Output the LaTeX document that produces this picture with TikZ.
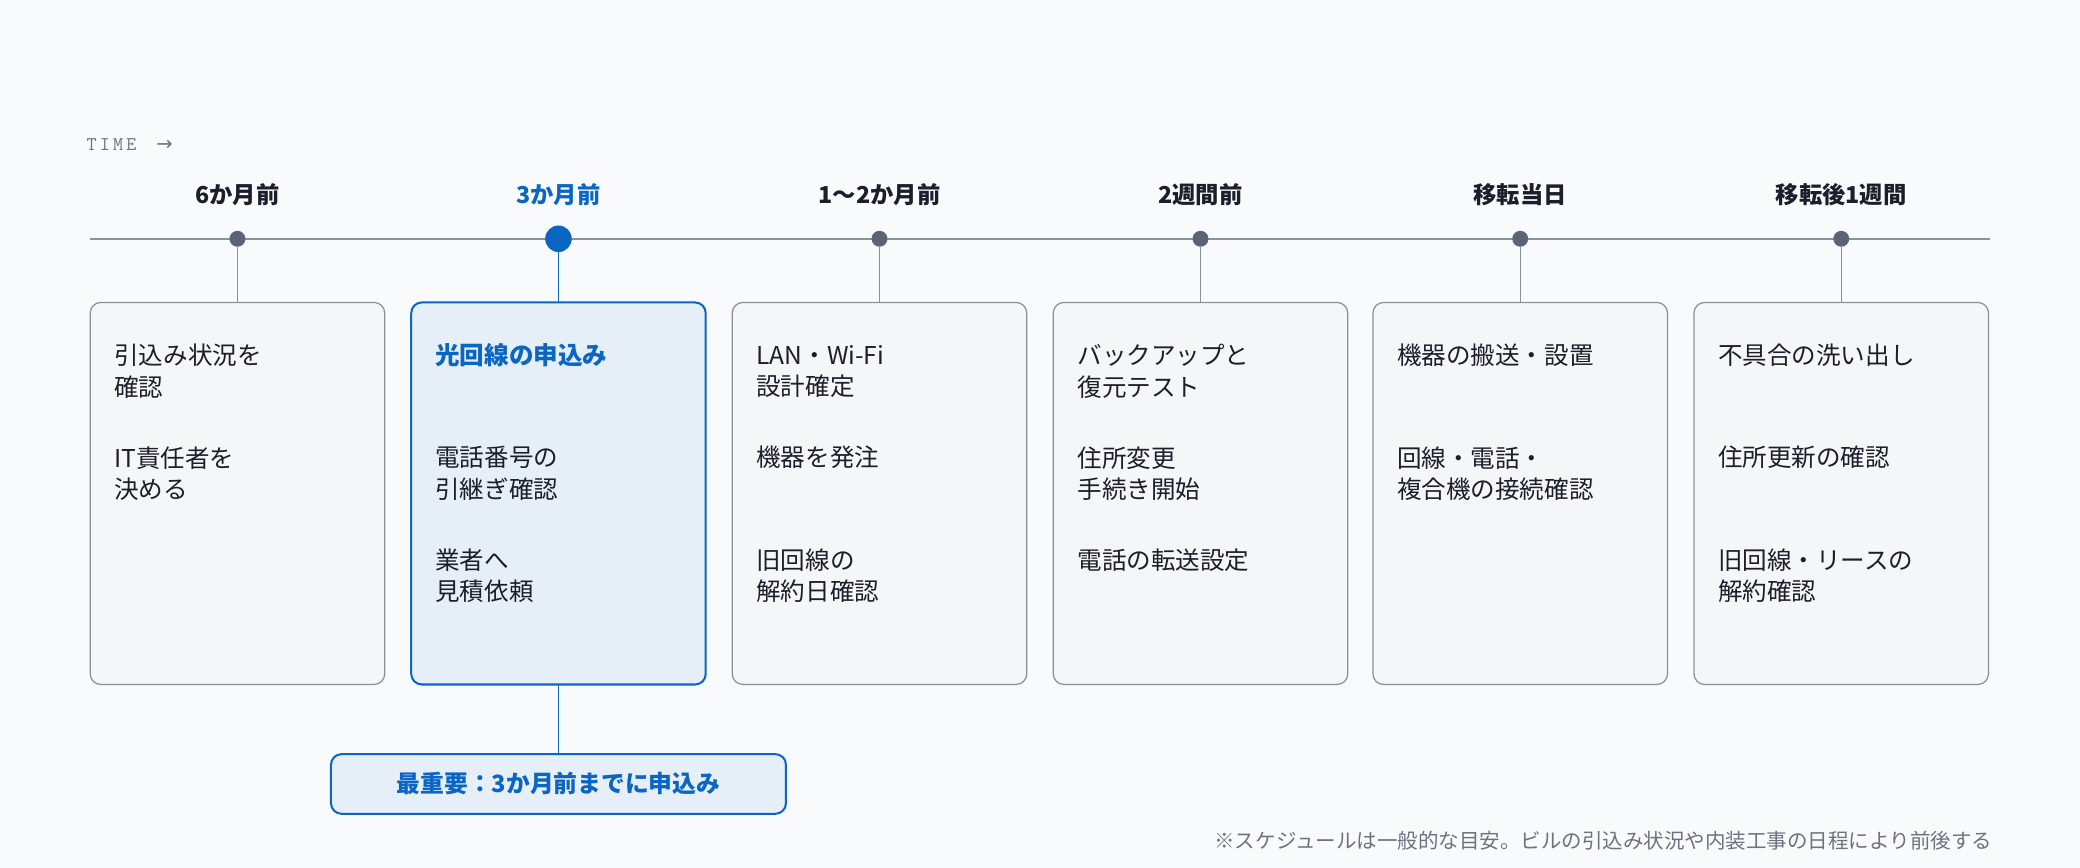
\documentclass[tikz,border=0pt]{standalone}
\usepackage{fontspec}
\setmainfont{Noto Sans CJK JP}
\newfontfamily\symfont{DejaVu Sans}
\usetikzlibrary{positioning}
\definecolor{bgcol}{HTML}{F9FAFB}
\definecolor{linecol}{HTML}{8A909C}
\definecolor{dotcol}{HTML}{5A6474}
\definecolor{inkcol}{HTML}{1A1F2B}
\definecolor{accent}{HTML}{0A66C2}
\definecolor{boxfill}{HTML}{F5F6F7}
\definecolor{hifill}{HTML}{E6EEF7}
\definecolor{notecol}{HTML}{6B7280}

\begin{document}
\begin{tikzpicture}[
      x = 0.3mm, y = -0.3mm,
      stage/.style = {
        font = \fontsize{15}{18}\selectfont\bfseries,
        text = inkcol
      },
      dot/.style = {
        circle, fill = dotcol, inner sep = 0pt,
        minimum size = 3.6mm
      },
      card/.style = {
        draw = linecol, fill = boxfill, line width = 0.8pt,
        rounded corners = 2.4mm
      },
      hicard/.style = { draw = accent, fill = hifill, line width = 1.3pt },
      item/.style = {
        anchor = west, align = left, inner sep = 0pt, text = inkcol,
        font = \fontsize{15.8}{20.4}\selectfont
      },
      stem/.style = { draw = linecol, line width = 0.8pt },
    ]

    % background and frame
    \fill[bgcol] (0,0) rectangle (1568,654);
    \useasboundingbox (0,0) rectangle (1568,654);

    \node[anchor=west, inner sep=0pt, text=notecol,
      font=\ttfamily\fontsize{12.5}{14}\selectfont] (T) at (65,109)
      {T\,I\,M\,E\ \ {\symfont →}};

    % time axis
    \coordinate (L) at (68,180);
    \coordinate (R) at (1500,180);
    \draw[linecol, line width=1pt] (L) -- (R);

    % stages
    \node[stage] (S1) at (179,147) {6か月前};
    \node[stage, text=accent] (S2) at (421,147) {3か月前};
    \node[stage] (S3) at (663,147) {1〜2か月前};
    \node[stage] (S4) at (905,147) {2週間前};
    \node[stage] (S5) at (1146,147) {移転当日};
    \node[stage] (S6) at (1388,147) {移転後1週間};

    \node[dot] (D1) at (179,180) {};
    \node[dot, fill=accent, minimum size=6mm] (D2) at (421,180) {};
    \node[dot] (D3) at (663,180) {};
    \node[dot] (D4) at (905,180) {};
    \node[dot] (D5) at (1146,180) {};
    \node[dot] (D6) at (1388,180) {};

    % cards
    \foreach \c/\n in {179/1, 663/3, 905/4, 1146/5, 1388/6} {
      \draw[card] (\c-111,228) rectangle (\c+111,516);
      \coordinate (B\n) at (\c,228);
      \draw[stem] (D\n) -- (B\n);
    }
    \draw[card, hicard] (310,228) rectangle (532,516);
    \coordinate (B2) at (421,228);
    \draw[accent, line width=1pt] (D2) -- (B2);

    % items
    \node[item] (I11) at (86,280) {引込み状況を\\確認};
    \node[item] (I12) at (86,357) {IT責任者を\\決める};

    \node[item, text=accent, font=\fontsize{15.8}{20.4}\selectfont\bfseries]
      (I21) at (328,268) {光回線の申込み};
    \node[item] (I22) at (328,357) {電話番号の\\引継ぎ確認};
    \node[item] (I23) at (328,434) {業者へ\\見積依頼};

    \node[item] (I31) at (570,280) {LAN・Wi-Fi\\設計確定};
    \node[item] (I32) at (570,345) {機器を発注};
    \node[item] (I33) at (570,434) {旧回線の\\解約日確認};

    \node[item] (I41) at (812,280) {バックアップと\\復元テスト};
    \node[item] (I42) at (812,357) {住所変更\\手続き開始};
    \node[item] (I43) at (812,422) {電話の転送設定};

    \node[item] (I51) at (1053,268) {機器の搬送・設置};
    \node[item] (I52) at (1053,357) {回線・電話・\\複合機の接続確認};

    \node[item] (I61) at (1295,268) {不具合の洗い出し};
    \node[item] (I62) at (1295,345) {住所更新の確認};
    \node[item] (I63) at (1295,434) {旧回線・リースの\\解約確認};

    % key callout
    \coordinate (K) at (421,516);
    \node[draw=accent, fill=hifill, line width=1.3pt, rounded corners=2.4mm,
      minimum width=102.9mm, minimum height=13.5mm, text=accent,
      font=\fontsize{15.3}{18}\selectfont\bfseries] (KEY) at (421,591)
      {最重要：3か月前までに申込み};
    \draw[accent, line width=1pt] (K) -- (KEY);

    \node[anchor=east, inner sep=0pt, text=notecol,
      font=\fontsize{13.2}{15}\selectfont] (NOTE) at (1502,634)
      {※スケジュールは一般的な目安。ビルの引込み状況や内装工事の日程により前後する};
  \end{tikzpicture}
\end{document}
